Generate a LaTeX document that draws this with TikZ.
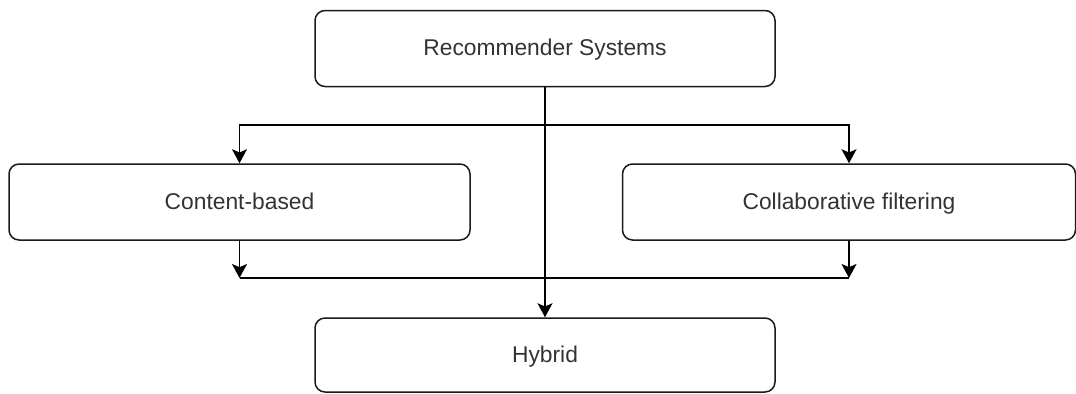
\documentclass[tikz,border=0pt]{standalone}
\usepackage{fontspec}
\setmainfont{Liberation Sans}
\usetikzlibrary{arrows.meta}
\definecolor{ink}{HTML}{333333}
\definecolor{edge}{HTML}{1A1A1A}
\tikzset{
  box/.style={draw=edge, line width=0.75pt, rounded corners=5pt, fill=white,
    text=ink, font=\fontsize{11.4pt}{13pt}\selectfont, inner sep=0pt,
    text height=0.9em, text depth=0.2em},
  link/.style={draw=black, line width=0.75pt},
  arr/.style={link, -{Stealth[length=7pt, width=7.5pt, inset=1.6pt]}}
}
\begin{document}
\begin{tikzpicture}[x=0.5pt, y=-0.5pt]
  \useasboundingbox (0,0) rectangle (1076,393);
  \fill[white] (0,0) rectangle (1076,393);

  % boxes
  \node[box, minimum width=230pt, minimum height=38pt] (rs) at (545,48.5) {Recommender Systems};
  \node[box, minimum width=230.5pt, minimum height=38pt] (cb) at (239.5,202) {Content-based};
  \node[box, minimum width=226.5pt, minimum height=38pt] (cf) at (849,202) {Collaborative filtering};
  \node[box, minimum width=230pt, minimum height=37pt] (hy) at (545,355) {Hybrid};

  % junction points
  \coordinate (top) at (545,125);
  \coordinate (bl) at (239.5,278);
  \coordinate (br) at (849,278);

  % connectors
  \draw[arr] (rs.south) -- (hy.north);
  \draw[arr] (top) -| (cb.north);
  \draw[arr] (top) -| (cf.north);
  \draw[arr] (cb.south) -- (bl);
  \draw[arr] (cf.south) -- (br);
  \draw[link] (bl) -- (br);
\end{tikzpicture}
\end{document}
